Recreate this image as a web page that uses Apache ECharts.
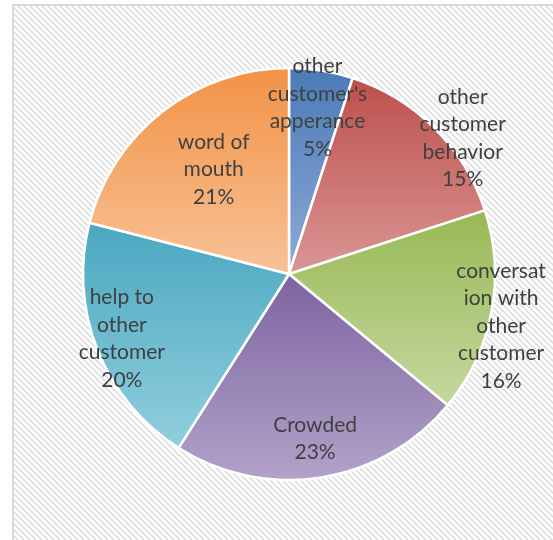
<!DOCTYPE html>
<html>
<head>
<meta charset="utf-8">
<script src="https://cdn.jsdelivr.net/npm/echarts@6/dist/echarts.min.js"></script>
<style>
  html, body { margin: 0; padding: 0; background: #ffffff; }
  #chart { width: 553px; height: 540px; }
</style>
</head>
<body>
<div id="chart"></div>
<script>
// Slice names (line breaks as shown in the labels) and their shares in percent
const categories = [
  "other\ncustomer's\napperance",
  "other\ncustomer\nbehavior",
  "conversat\nion with\nother\ncustomer",
  "Crowded",
  "help to\nother\ncustomer",
  "word of\nmouth"
];
const shares = [5, 15, 16, 23, 20, 21];

// Top / bottom colours of each slice's vertical gradient
const topColors = ['#4a7ab8', '#bd4f4c', '#98b954', '#7d63a0', '#49a7c0', '#f29245'];
const bottomColors = ['#8eaad5', '#d99794', '#c5d8a0', '#b2a3c9', '#92cfdd', '#f8c297'];

// Label placement: distance from centre (fraction of radius) and angular nudge in degrees
const labelDist = [0.82, 1.07, 1.06, 0.81, 0.87, 0.625];
const labelTurn = [0.7, 7, 3, 0, 0.5, 2];

const CX = 289, CY = 274, R = 206;

// Diagonal hatch tile for the plot background
function hatchTile() {
  const c = document.createElement('canvas');
  c.width = 6; c.height = 6;
  const g = c.getContext('2d');
  g.fillStyle = '#ffffff';
  g.fillRect(0, 0, 6, 6);
  g.strokeStyle = '#dedede';
  g.lineWidth = 1.6;
  g.beginPath();
  g.moveTo(-1, -1); g.lineTo(7, 7);
  g.moveTo(-4, 2); g.lineTo(4, 10);
  g.moveTo(2, -4); g.lineTo(10, 4);
  g.stroke();
  return c;
}

const total = shares.reduce((a, b) => a + b, 0);
const midAngles = [];
{
  let acc = 0;
  shares.forEach(v => { midAngles.push((acc + v / 2) / total * 360); acc += v; });
}

const chart = echarts.init(document.getElementById('chart'), null, { renderer: 'canvas' });

chart.setOption({
  animation: false,
  backgroundColor: '#ffffff',
  graphic: [{
    type: 'rect',
    z: -10,
    silent: true,
    shape: { x: 13, y: 5, width: 560, height: 560 },
    style: {
      fill: { image: hatchTile(), repeat: 'repeat' },
      stroke: '#d9d9d9',
      lineWidth: 2
    }
  }],
  series: [{
    type: 'pie',
    center: [CX, CY],
    radius: [0, R],
    startAngle: 90,
    clockwise: true,
    avoidLabelOverlap: false,
    itemStyle: { borderColor: '#ffffff', borderWidth: 2.5 },
    label: {
      show: true,
      position: 'inside',
      formatter: p => p.name + '\n' + p.value + '%',
      color: '#404040',
      fontFamily: 'Lato, "Open Sans", sans-serif',
      fontSize: 21,
      lineHeight: 27.5,
      align: 'center',
      verticalAlign: 'middle'
    },
    labelLine: { show: false },
    labelLayout: function (params) {
      const i = params.dataIndex;
      const a = (midAngles[i] + labelTurn[i]) * Math.PI / 180;
      const d = labelDist[i] * R;
      return { x: CX + d * Math.sin(a), y: CY - d * Math.cos(a), align: 'center', verticalAlign: 'middle' };
    },
    data: categories.map((name, i) => ({
      name: name,
      value: shares[i],
      itemStyle: {
        color: new echarts.graphic.LinearGradient(0, 0, 0, 1, [
          { offset: 0, color: topColors[i] },
          { offset: 1, color: bottomColors[i] }
        ])
      }
    }))
  }]
});
</script>
</body>
</html>
